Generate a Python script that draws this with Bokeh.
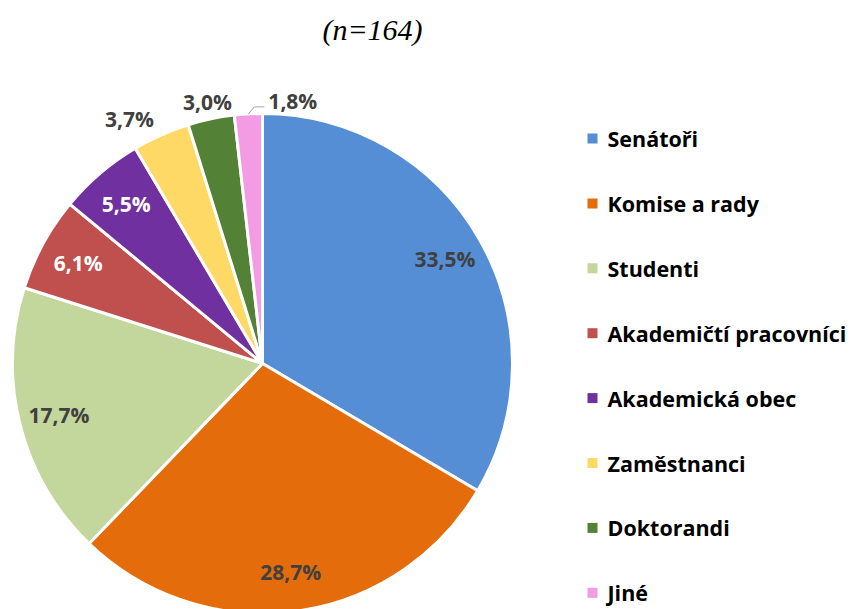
import math
from bokeh.plotting import figure
from bokeh.models import Range1d
from bokeh.core.properties import value
from bokeh.embed import file_html
from bokeh.resources import INLINE

# ---- data ----
categories = ["Senátoři", "Komise a rady", "Studenti", "Akademičtí pracovníci",
              "Akademická obec", "Zaměstnanci", "Doktorandi", "Jiné"]
shares = [33.5, 28.7, 17.7, 6.1, 5.5, 3.7, 3.0, 1.8]
colors = ["#558ED5", "#E46C0A", "#C3D69B", "#C0504D",
          "#7030A0", "#FFD966", "#538135", "#F39BE3"]
label_colors = ["#404040", "#404040", "#404040", "#FFFFFF",
                "#FFFFFF", "#404040", "#404040", "#404040"]
title_text = "(n=164)"

W, H = 854, 609
p = figure(width=W, height=H, output_backend="svg", toolbar_location=None,
           x_range=Range1d(0, W), y_range=Range1d(0, H), min_border=0)
p.axis.visible = False
p.grid.visible = False
p.outline_line_color = None
p.background_fill_color = "white"


def sx(x):
    return x


def sy(y):
    return H - y


cx, cy, R = sx(262), sy(363), 250
total = sum(shares)

starts, ends, mids = [], [], []
cum = 0.0
for v in shares:
    a0 = math.pi / 2 - 2 * math.pi * cum / total
    cum += v
    a1 = math.pi / 2 - 2 * math.pi * cum / total
    starts.append(a0)
    ends.append(a1)
    mids.append((a0 + a1) / 2)

p.wedge(x=[cx] * len(shares), y=[cy] * len(shares), radius=R,
        start_angle=starts, end_angle=ends, direction="clock",
        fill_color=colors, line_color="white", line_width=3)

font = value("Open Sans")
fmt = [f"{v:.1f}".replace(".", ",") + "%" for v in shares]

for i, v in enumerate(shares):
    a = mids[i]
    if v >= 5:
        r = 0.84 * R
        p.text(x=[cx + r * math.cos(a)], y=[cy + r * math.sin(a)], text=[fmt[i]],
               text_font=font, text_font_style="bold", text_font_size="21px",
               text_color=label_colors[i], text_align="center", text_baseline="middle")
    elif v >= 2.5:
        r = 1.07 * R
        c = math.cos(a)
        align = "right" if c < -0.3 else ("left" if c > 0.3 else "center")
        p.text(x=[cx + r * c], y=[cy + r * math.sin(a)], text=[fmt[i]],
               text_font=font, text_font_style="bold", text_font_size="21px",
               text_color=label_colors[i], text_align=align, text_baseline="middle")
    else:
        x0, y0 = cx + R * math.cos(a), cy + R * math.sin(a)
        x1, y1 = x0 + 6, y0 + 7
        x2 = x1 + 10
        p.line(x=[x0, x1, x2], y=[y0, y1, y1], line_color="#A6A6A6", line_width=1)
        p.text(x=[x2 + 4], y=[y1 + 6], text=[fmt[i]],
               text_font=font, text_font_style="bold", text_font_size="21px",
               text_color=label_colors[i], text_align="left", text_baseline="middle")

# title
p.text(x=[sx(372)], y=[sy(29)], text=[title_text], text_font=value("Liberation Serif"),
       text_font_style="italic", text_font_size="30px", text_color="#000000",
       text_align="center", text_baseline="middle")

# legend
leg_y = [sy(138 + i * 64.9) for i in range(len(categories))]
p.rect(x=[sx(592)] * len(categories), y=leg_y, width=10, height=10,
       fill_color=colors, line_color=None)
p.text(x=[sx(607)] * len(categories), y=leg_y, text=categories,
       text_font=font, text_font_style="bold", text_font_size="21.5px",
       text_color="#000000", text_align="left", text_baseline="middle")

open("out.html", "w").write(file_html(p, INLINE))
